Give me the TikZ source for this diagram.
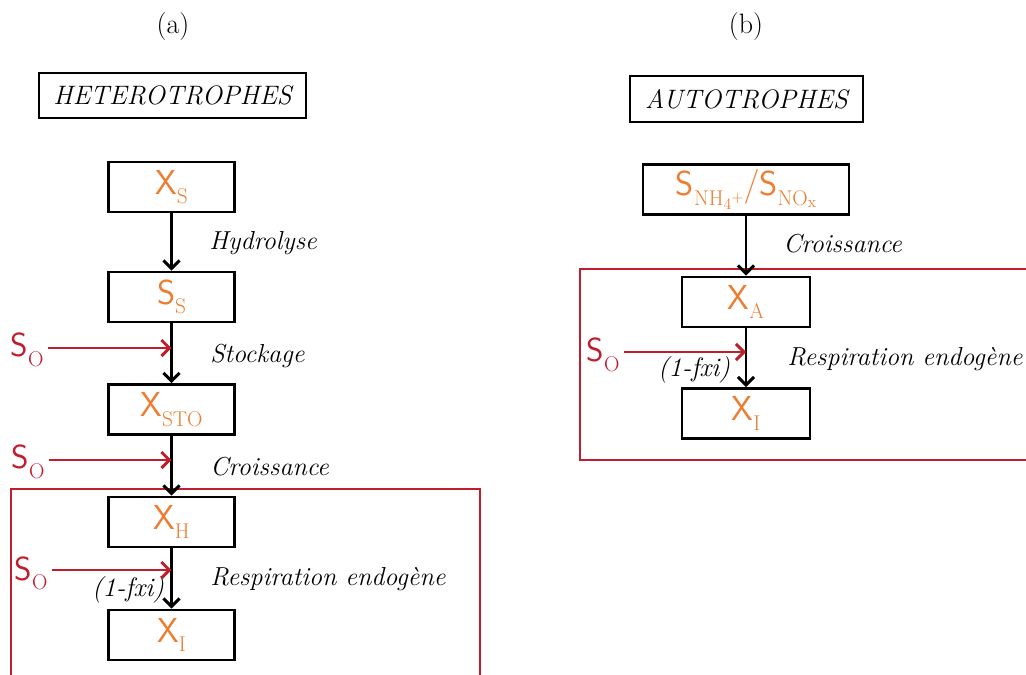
\documentclass[tikz,border=0pt]{standalone}
\usepackage{fontspec}
\usetikzlibrary{arrows.meta}
\definecolor{orng}{RGB}{237,125,49}
\definecolor{rd}{RGB}{192,30,45}
\newcommand{\mysub}[2]{{\sffamily #1}\raisebox{-0.28em}{\fontsize{16}{18}\selectfont\rmfamily #2}}
\tikzset{
  box/.style={draw=black,line width=2.2pt,minimum width=95pt,minimum height=37.5pt,inner sep=0pt,text=orng,font=\fontsize{26}{29}\selectfont},
  titlebox/.style={draw=black,line width=1.8pt,minimum height=34pt,inner sep=0pt,font=\fontsize{20}{24}\selectfont\itshape},
  lab/.style={anchor=west,inner sep=0pt,font=\fontsize{19.5}{23}\selectfont\itshape},
  small/.style={inner sep=0pt,font=\fontsize{20}{24}\selectfont\itshape},
  so/.style={inner sep=0pt,text=rd,font=\fontsize{25}{28}\selectfont},
  flow/.style={draw=black,line width=2.2pt,-{Straight Barb[length=6pt,width=12pt,line width=2.2pt]}},
  rflow/.style={draw=rd,line width=2.2pt,-{Straight Barb[length=6pt,width=12pt,line width=2.2pt]}},
  redbox/.style={draw=rd,line width=2pt}
}
\begin{document}
\begin{tikzpicture}[x=0.75pt,y=-0.75pt]
\useasboundingbox (0,0) rectangle (1026,675);
% red frames
\draw[redbox] (11,690) -- (11,489) -- (480,489) -- (480,690);
\draw[redbox] (1040,269) -- (580,269) -- (580,460) -- (1040,460);
% (a)
\node[font=\fontsize{21}{25}\selectfont,inner sep=0pt] (ta) at (173,27) {(a)};
\node[titlebox,minimum width=200pt] (het) at (172.5,95.5) {HETEROTROPHES};
\node[box] (xs) at (171.5,187) {\mysub{X}{S}};
\node[box] (ss) at (171.5,297) {\mysub{S}{S}};
\node[box] (xsto) at (171.5,409.5) {\mysub{X}{STO}};
\node[box] (xh) at (171.5,522) {\mysub{X}{H}};
\node[box] (xi) at (171.5,635) {\mysub{X}{I}};
\draw[flow] (xs) -- (ss);
\draw[flow] (ss) -- (xsto);
\draw[flow] (xsto) -- (xh);
\draw[flow] (xh) -- (xi);
\node[lab] (l1) at (209,243) {Hydrolyse};
\node[lab] (l2) at (210,356) {Stockage};
\node[lab] (l3) at (210,467) {Croissance};
\node[lab] (l4) at (210,579) {Respiration endogène};
\node[small] (f1) at (128,590) {(1-fxi)};
\node[so] (so1) at (27,350) {\mysub{S}{O}};
\node[so] (so2) at (28,462) {\mysub{S}{O}};
\node[so] (so3) at (31,573) {\mysub{S}{O}};
\draw[rflow] ([xshift=3pt]so1.east |- 0,348) -- (ss.south |- 0,348);
\draw[rflow] ([xshift=3pt]so2.east |- 0,460) -- (xsto.south |- 0,460);
\draw[rflow] ([xshift=3pt]so3.east |- 0,570) -- (xh.south |- 0,570);
% (b)
\node[font=\fontsize{21}{25}\selectfont,inner sep=0pt] (tb) at (746,27) {(b)};
\node[titlebox,minimum width=175pt,minimum height=34.5pt] (aut) at (746.5,99) {AUTOTROPHES};
\node[box,minimum width=154.5pt,minimum height=37pt] (snh) at (746,189.5) {\mysub{S}{NH\raisebox{-0.2em}{\fontsize{12}{13}\selectfont 4}\raisebox{0.15em}{\fontsize{12}{13}\selectfont +}}/\mysub{S}{NO\raisebox{-0.1em}{\fontsize{12}{13}\selectfont x}}};
\node[box,minimum width=96pt] (xa) at (746,302) {\mysub{X}{A}};
\node[box,minimum width=96pt] (xi2) at (746,413.5) {\mysub{X}{I}};
\draw[flow] (snh) -- (xa);
\draw[flow] (xa) -- (xi2);
\node[lab] (l5) at (783,244) {Croissance};
\node[lab] (l6) at (787,359) {Respiration endogène};
\node[small] (f2) at (694,370) {(1-fxi)};
\node[so] (so4) at (603,355) {\mysub{S}{O}};
\draw[rflow] ([xshift=3pt]so4.east |- 0,352) -- (xa.south |- 0,352);
\end{tikzpicture}
\end{document}
